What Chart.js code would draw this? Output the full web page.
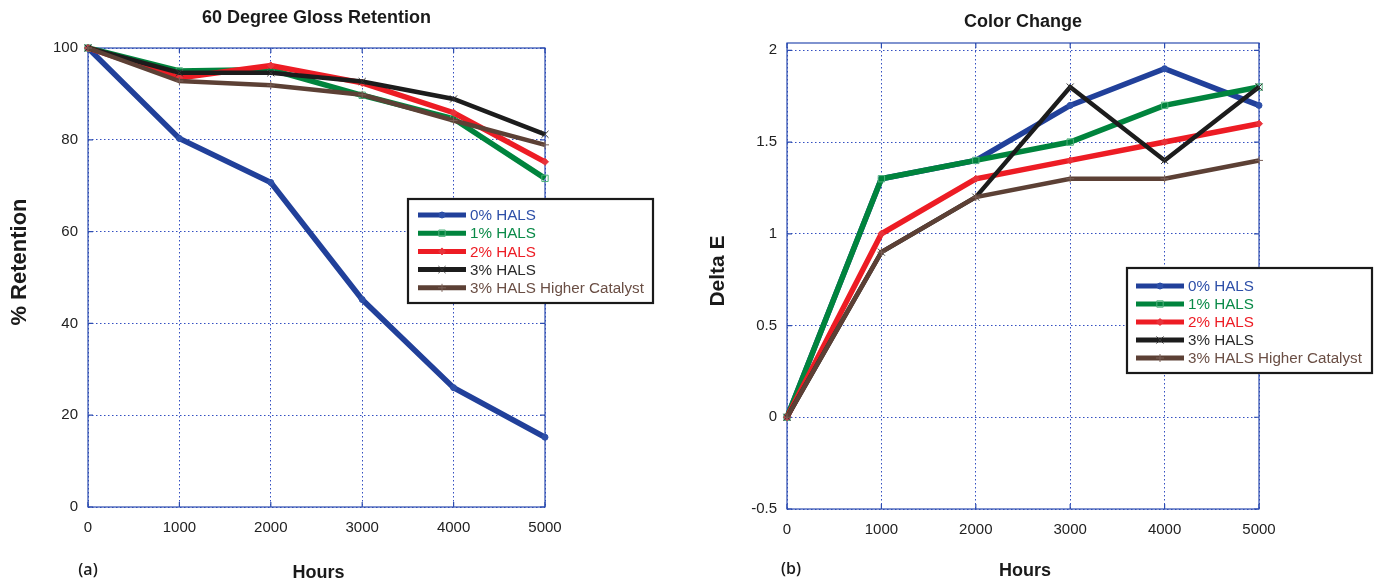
<!DOCTYPE html>
<html><head><meta charset="utf-8">
<script src="https://cdn.jsdelivr.net/npm/chart.js@4.4.1/dist/chart.umd.min.js"></script>
<style>
html,body{margin:0;padding:0;background:#fff;}
#wrap{position:relative;width:1393px;height:582px;overflow:hidden;background:#fff;}
.box{position:absolute;top:0;height:582px;}
</style></head><body>
<div id="wrap">
<div class="box" style="left:0;width:700px"><canvas id="c1" width="700" height="582"></canvas></div>
<div class="box" style="left:700px;width:693px"><canvas id="c2" width="693" height="582"></canvas></div>
</div>
<script>
// ---------- data ----------
const hours = [0, 1000, 2000, 3000, 4000, 5000];
const seriesNames = ['0% HALS', '1% HALS', '2% HALS', '3% HALS', '3% HALS Higher Catalyst'];
const glossHals0   = [100, 80.3, 70.7, 45.2, 26.0, 15.2];
const glossHals1   = [100, 95.0, 95.3, 89.7, 84.6, 71.6];
const glossHals2   = [100, 93.5, 96.2, 92.4, 85.9, 75.2];
const glossHals3   = [100, 94.6, 94.6, 92.7, 88.9, 81.2];
const glossHals3HC = [100, 92.8, 91.9, 89.8, 84.2, 78.9];
const colorHals0   = [0, 1.3, 1.4, 1.7, 1.9, 1.7];
const colorHals1   = [0, 1.3, 1.4, 1.5, 1.7, 1.8];
const colorHals2   = [0, 1.0, 1.3, 1.4, 1.5, 1.6];
const colorHals3   = [0, 0.9, 1.2, 1.8, 1.4, 1.8];
const colorHals3HC = [0, 0.9, 1.2, 1.3, 1.3, 1.4];
const glossTicks = [0, 20, 40, 60, 80, 100];
const colorTicks = [-0.5, 0, 0.5, 1, 1.5, 2];
const hourTicks  = [0, 1000, 2000, 3000, 4000, 5000];

// ---------- styles ----------
const SANS = "'Liberation Sans', Arial, sans-serif";
const PANEL = "'Open Sans', 'Liberation Sans', sans-serif";
const GRID = 'rgba(40,70,190,0.95)';
const FRAME = '#2c4cb0';
const styles = [
  {line: '#21409a', text: '#2d4fa8', pointStyle: 'circle', radius: 3, pb: '#2d4fa8', pf: '#2d4fa8', width: 5.5},
  {line: '#00843d', text: '#0a8a48', pointStyle: 'rect', radius: 4.5, pb: '#4cb07a', pf: 'rgba(0,0,0,0)', width: 5.5},
  {line: '#ed1c24', text: '#ed1c24', pointStyle: 'rectRot', radius: 3.5, pb: '#e8323a', pf: '#e8323a', width: 5.5},
  {line: '#1c1c1c', text: '#2a2a2a', pointStyle: 'crossRot', radius: 5, pb: '#333', pf: '#333', width: 4.5},
  {line: '#5c4035', text: '#6a4e44', pointStyle: 'cross', radius: 4, pb: '#7a6058', pf: '#7a6058', width: 4.5}
];

function makeDatasets(seriesList) {
  return seriesList.map((vals, i) => ({
    label: seriesNames[i],
    data: hours.map((h, j) => ({x: h, y: vals[j]})),
    borderColor: styles[i].line,
    backgroundColor: styles[i].line,
    borderWidth: styles[i].width,
    pointStyle: styles[i].pointStyle,
    pointRadius: styles[i].radius,
    pointBorderWidth: 1,
    pointBorderColor: styles[i].pb,
    pointBackgroundColor: styles[i].pf,
    tension: 0,
    clip: false,
    order: seriesList.length - 1 - i
  }));
}

const decor = {
  id: 'decor',
  beforeDatasetsDraw(chart, args, o) {
    const {ctx, chartArea: a} = chart;
    const xs = chart.scales.x, ys = chart.scales.y;
    ctx.save();
    ctx.strokeStyle = FRAME;
    ctx.lineWidth = 1.2;
    ctx.strokeRect(a.left, a.top, a.right - a.left, a.bottom - a.top);
    ctx.beginPath();
    xs.ticks.forEach(t => {
      const px = xs.getPixelForValue(t.value);
      ctx.moveTo(px, a.bottom); ctx.lineTo(px, a.bottom - 5);
      ctx.moveTo(px, a.top); ctx.lineTo(px, a.top + 5);
    });
    ys.ticks.forEach(t => {
      const py = ys.getPixelForValue(t.value);
      ctx.moveTo(a.left, py); ctx.lineTo(a.left + 5, py);
      ctx.moveTo(a.right, py); ctx.lineTo(a.right - 5, py);
    });
    ctx.stroke();
    ctx.restore();
  },
  afterDraw(chart, args, o) {
    const {ctx, chartArea: a} = chart;
    const cx = (a.left + a.right) / 2;
    ctx.save();
    ctx.fillStyle = '#1a1a1a';
    ctx.textAlign = 'center';
    ctx.textBaseline = 'middle';
    ctx.font = "bold 18px " + SANS;
    ctx.fillText(o.title, cx, o.titleY);
    ctx.font = "bold 18px " + SANS;
    ctx.fillText(o.xTitle, cx + 2, o.xTitleY);
    ctx.font = "600 16px " + PANEL;
    ctx.fillText(o.panel, o.panelX, o.panelY);
    ctx.save();
    ctx.translate(o.yTitleX, o.yTitleY);
    ctx.rotate(-Math.PI / 2);
    ctx.font = "bold " + o.yTitleSize + "px " + SANS;
    ctx.fillText(o.yTitle, 0, 0);
    ctx.restore();
    // legend
    const L = o.legend;
    ctx.fillStyle = '#fff';
    ctx.fillRect(L.x, L.y, L.w, L.h);
    ctx.strokeStyle = '#1a1a1a';
    ctx.lineWidth = 2.2;
    ctx.strokeRect(L.x, L.y, L.w, L.h);
    chart.data.datasets.forEach((ds, i) => {
      const y = L.y + L.first + i * L.dy;
      ctx.strokeStyle = ds.borderColor;
      ctx.lineWidth = 5;
      ctx.beginPath();
      ctx.moveTo(L.x + L.s0, y); ctx.lineTo(L.x + L.s1, y);
      ctx.stroke();
      ctx.strokeStyle = ds.pointBorderColor;
      ctx.fillStyle = ds.pointBackgroundColor;
      ctx.lineWidth = 1;
      Chart.helpers.drawPoint(ctx, {pointStyle: ds.pointStyle, radius: ds.pointRadius, borderWidth: 1, rotation: 0},
        L.x + (L.s0 + L.s1) / 2, y);
      ctx.fillStyle = styles[i].text;
      ctx.font = "15.2px " + SANS;
      ctx.textAlign = 'left';
      ctx.textBaseline = 'middle';
      ctx.fillText(ds.label, L.x + L.tx, y + 1);
    });
    ctx.restore();
  }
};

function makeChart(id, seriesList, yTicks, yMin, yMax, geom, decorOpts) {
  return new Chart(document.getElementById(id), {
    type: 'line',
    data: {datasets: makeDatasets(seriesList)},
    plugins: [decor],
    options: {
      responsive: false,
      animation: false,
      devicePixelRatio: 1,
      layout: {padding: {left: 0, right: geom.padRight, top: geom.padTop, bottom: 0}},
      plugins: {legend: {display: false}, tooltip: {enabled: false}, title: {display: false}, decor: decorOpts},
      scales: {
        x: {
          type: 'linear', min: hours[0], max: hours[hours.length - 1],
          afterBuildTicks: s => { s.ticks = hourTicks.map(v => ({value: v})); },
          afterFit: s => { s.height = geom.xHeight; },
          grid: {color: GRID, lineWidth: 1, drawTicks: false},
          border: {display: false, dash: [1.5, 2.5]},
          ticks: {padding: 12, color: '#222', font: {family: SANS, size: 15}, callback: v => String(v)}
        },
        y: {
          type: 'linear', min: yMin, max: yMax,
          afterBuildTicks: s => { s.ticks = yTicks.map(v => ({value: v})); },
          afterFit: s => { s.width = geom.yWidth; },
          grid: {color: GRID, lineWidth: 1, drawTicks: false},
          border: {display: false, dash: [1.5, 2.5]},
          ticks: {padding: 10, color: '#222', font: {family: SANS, size: 15}, callback: v => String(v)}
        }
      }
    }
  });
}

makeChart('c1', [glossHals0, glossHals1, glossHals2, glossHals3, glossHals3HC], glossTicks, 0, 100,
  {padRight: 155, padTop: 48, xHeight: 75, yWidth: 88},
  {title: '60 Degree Gloss Retention', titleY: 18, xTitle: 'Hours', xTitleY: 573, yTitle: '% Retention', yTitleSize: 22,
   yTitleX: 20, yTitleY: 262, panel: '(a)', panelX: 88, panelY: 570,
   legend: {x: 408, y: 199, w: 245, h: 104, first: 16, dy: 18.2, s0: 10, s1: 58, tx: 62}});

makeChart('c2', [colorHals0, colorHals1, colorHals2, colorHals3, colorHals3HC], colorTicks, -0.5, 2.04,
  {padRight: 134, padTop: 43, xHeight: 73, yWidth: 87},
  {title: 'Color Change', titleY: 22, xTitle: 'Hours', xTitleY: 571, yTitle: 'Delta E', yTitleSize: 21,
   yTitleX: 18, yTitleY: 271, panel: '(b)', panelX: 91, panelY: 569,
   legend: {x: 427, y: 268, w: 245, h: 105, first: 18, dy: 18, s0: 9, s1: 57, tx: 61}});
</script>
</body></html>
